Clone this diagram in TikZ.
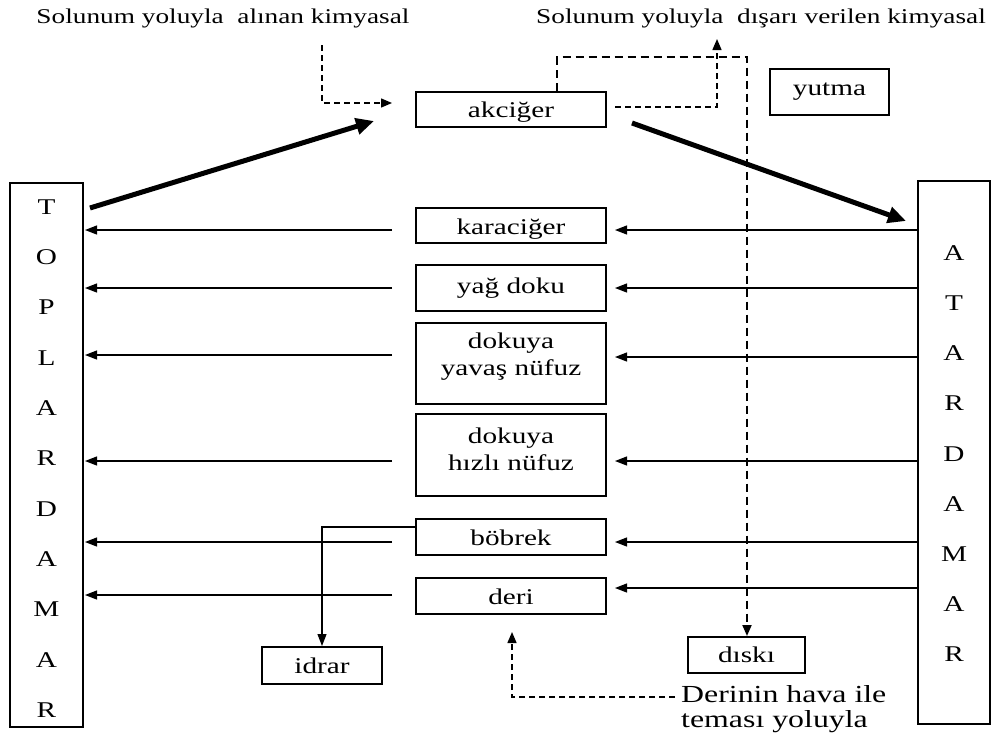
\documentclass[tikz,border=0pt]{standalone}
\usepackage{fontspec}
\setmainfont{Liberation Serif}[FakeStretch=1.3]
\usetikzlibrary{arrows.meta}
\begin{document}
\begin{tikzpicture}[x=1pt,y=-1pt,
  every node/.style={font=\fontsize{22.5}{27}\selectfont, text=black},
  box/.style={draw=black, line width=2pt, inner sep=0pt, minimum width=190pt, minimum height=35pt},
  low/.style={text height=17pt, text depth=0pt},
  sbox/.style={draw=black, line width=2pt, inner sep=0pt},
  txt/.style={inner sep=0pt, align=center},
  arr/.style={line width=1.2pt, -{Triangle[length=12pt,width=9pt]}},
  thick arr/.style={line width=5pt, -{Triangle[length=18pt,width=16pt]}},
  dsh/.style={line width=1.9pt, dash pattern=on 8pt off 5pt, -{Triangle[length=11pt,width=9pt]}},
  fdsh/.style={line width=1.4pt, dash pattern=on 6pt off 4pt, -{Triangle[length=11pt,width=9pt]}}
]
\useasboundingbox (0,0) rectangle (993,740);

% top texts
\node[txt, font=\fontsize{21}{25}\selectfont] (tl) at (223,18) {Solunum yoluyla \ alınan kimyasal};
\node[txt, font=\fontsize{21}{25}\selectfont] (tr) at (761,18) {Solunum yoluyla \ dışarı verilen kimyasal};

% vessel boxes
\node[sbox, minimum width=73pt, minimum height=544pt] (top) at (46.5,455) {};
\node[sbox, minimum width=72pt, minimum height=543pt] (atar) at (954,452.5) {};
\foreach \l [count=\i from 0] in {T,O,P,L,A,R,D,A,M,A,R}
  \node[txt] (tp\i) at (46.5,{207+50.3*\i}) {\l};
\foreach \l [count=\i from 0] in {A,T,A,R,D,A,M,A,R}
  \node[txt] (ad\i) at (954,{253+50.2*\i}) {\l};

% organ boxes
\node[box, low] (akc) at (511,109) {akciğer};
\node[sbox, minimum width=119pt, minimum height=46pt] (yut) at (829.5,92) {yutma};
\node[box, low] (kara) at (511,225.5) {karaciğer};
\node[box, minimum height=46pt] (yag) at (511,288) {yağ doku};
\node[box, minimum height=81pt] (yavas) at (511,363.5) {};
\node[txt] (yavast) at (511,357) {dokuya\\yavaş nüfuz};
\node[box, minimum height=82pt] (hizli) at (511,455) {};
\node[txt] (hizlit) at (511,449) {dokuya\\hızlı nüfuz};
\node[box, low, minimum height=36pt] (bob) at (511,537) {böbrek};
\node[box, low, minimum height=36pt] (deri) at (511,596) {deri};
\node[sbox, minimum width=120pt, minimum height=37pt] (idr) at (322,665.5) {idrar};
\node[sbox, minimum width=117pt, minimum height=36pt] (disk) at (746.5,655) {dıskı};
\node[txt, align=left, anchor=west, font=\fontsize{24.5}{25}\selectfont] (derin) at (681,709) {Derinin hava ile\\teması yoluyla};

% thick arrows
\coordinate (t1) at (90,208);
\coordinate (t2) at (374,121);
\coordinate (t3) at (632,123);
\coordinate (t4) at (906,221);
\draw[thick arr] (t1) -- (t2);
\draw[thick arr] (t3) -- (t4);

% right arrows (atardamar -> organs)
\foreach \n/\y in {kara/230,yag/288,yavas/357,hizli/461,bob/542,deri/588}
  \draw[arr, shorten >=8pt] (atar.west |- 0,\y) -- (\n.east |- 0,\y);
% left arrows (organs -> toplardamar)
\foreach \n/\y in {kara/230,yag/288,yavas/355,hizli/461,bob/542,deri/595}
  \draw[arr, shorten <=23pt, shorten >=1pt] (\n.west |- 0,\y) -- (top.east |- 0,\y);

% böbrek -> idrar
\draw[arr] (bob.west |- 0,527) -| (idr.north);

% dashed: inhaled
\coordinate (in1) at (322,45);
\coordinate (in2) at (392,103);
\draw[fdsh] (in1) |- (in2);

% dashed: exhaled
\coordinate (ex1) at (615,107);
\coordinate (ex2) at (717,39);
\draw[fdsh] (ex1) -| (ex2);

% dashed: ingestion to feces
\coordinate (yc) at (747,57);
\draw[dsh] (akc.north -| 557,0) |- (yc) -- (disk.north -| yc);

% dashed: skin contact
\coordinate (sk1) at (675,697);
\coordinate (sk2) at (512,632);
\draw[fdsh] (sk1) -| (sk2);
\end{tikzpicture}
\end{document}
